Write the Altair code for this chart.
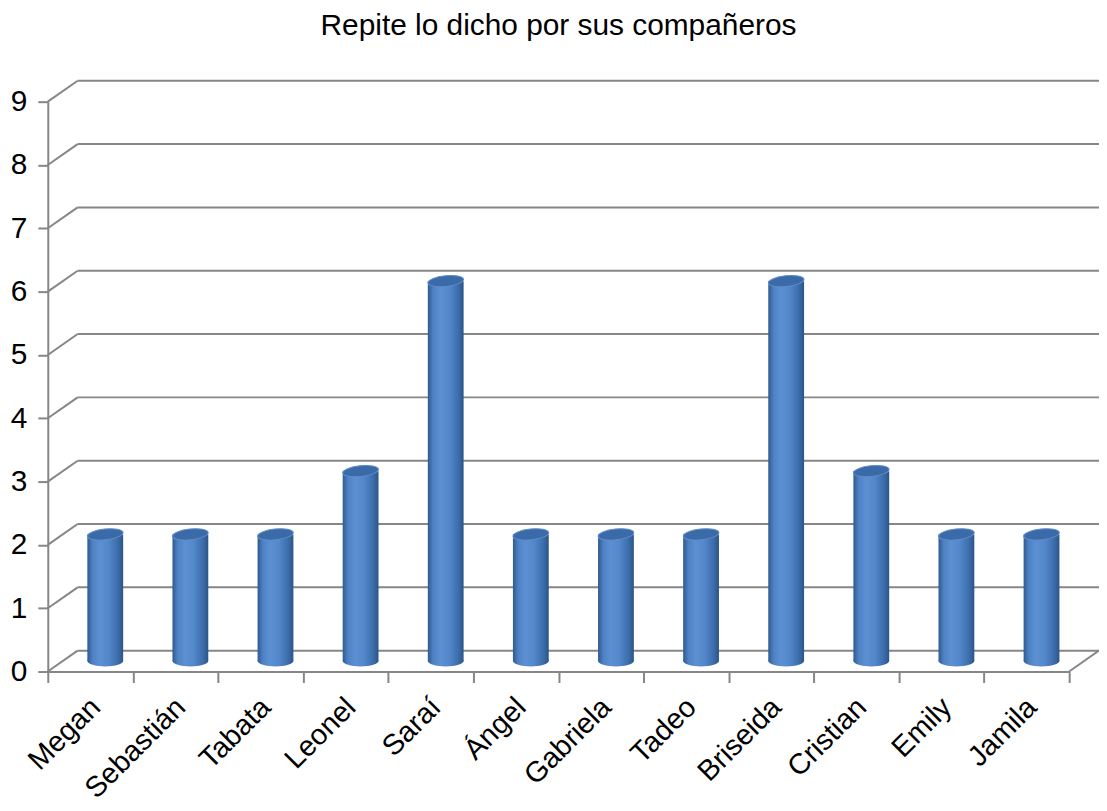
import altair as alt
import pandas as pd

# ---- data ----
nombres = ["Megan", "Sebastián", "Tabata", "Leonel", "Saraí", "Ángel",
           "Gabriela", "Tadeo", "Briseida", "Cristian", "Emily", "Jamila"]
valores = [2, 2, 2, 3, 6, 2, 2, 2, 6, 3, 2, 2]
y_ticks = [0, 1, 2, 3, 4, 5, 6, 7, 8, 9]
titulo = "Repite lo dicho por sus compañeros"

df = pd.DataFrame({"nombre": nombres, "valor": valores})
grid = pd.DataFrame({"v": y_ticks})
floor = pd.DataFrame({"v": [0]})

# ---- style ----
W, H = 1027, 573
DX, DY = 30, 21
GRAY = "#868686"
FONT = "Liberation Sans"
ELL = "M -1 0 A 1 0.3 0 1 1 1 0 A 1 0.3 0 1 1 -1 0 Z"

body_grad = alt.Gradient(
    gradient="linear", x1=0, x2=1, y1=0, y2=0,
    stops=[
        alt.GradientStop(color="#2d5a90", offset=0),
        alt.GradientStop(color="#4f82c4", offset=0.15),
        alt.GradientStop(color="#5c90d3", offset=0.35),
        alt.GradientStop(color="#5387ca", offset=0.6),
        alt.GradientStop(color="#3c6dab", offset=0.85),
        alt.GradientStop(color="#2b5588", offset=1),
    ],
)

y_scale = alt.Scale(domain=[0, 9], nice=False, zero=True)
y_axis = alt.Axis(
    title=None, values=y_ticks, grid=False, tickSize=10, tickWidth=2,
    tickColor=GRAY, domainColor=GRAY, domainWidth=2, labelFontSize=30,
    labelFont=FONT, labelColor="black", labelPadding=11,
)
x_axis = alt.Axis(
    title=None, labelAngle=-45, labelFontSize=29, labelFont=FONT,
    labelColor="black", tickBand="extent", tickSize=11, tickWidth=2,
    tickColor=GRAY, domainColor=GRAY, domainWidth=2, labelPadding=10,
    labelOffset=-5, grid=False, labelOverlap=False,
)
x_enc = alt.X("nombre:N", sort=nombres,
              scale=alt.Scale(paddingInner=0, paddingOuter=0), axis=x_axis)

# back-wall gridlines
back = alt.Chart(grid).mark_rule(color=GRAY, strokeWidth=2, yOffset=-DY).encode(
    y=alt.Y("v:Q", scale=y_scale, axis=y_axis),
    x=alt.value(DX), x2=alt.value(W + DX + 4),
)
# side-wall diagonals
side = alt.Chart(grid).mark_rule(color=GRAY, strokeWidth=2, y2Offset=-DY).encode(
    y=alt.Y("v:Q", scale=y_scale, axis=y_axis), y2="v:Q",
    x=alt.value(0), x2=alt.value(DX),
)
# right floor diagonal
right = alt.Chart(floor).mark_rule(color=GRAY, strokeWidth=2, y2Offset=-DY).encode(
    y=alt.Y("v:Q", scale=y_scale, axis=y_axis), y2="v:Q",
    x=alt.value(W), x2=alt.value(W + DX),
)

bars = alt.Chart(df).mark_bar(width=36, xOffset=15, yOffset=-DY / 2,
                              color=body_grad).encode(
    x=x_enc, y=alt.Y("valor:Q", scale=y_scale, axis=y_axis),
)
bottoms = alt.Chart(df).transform_calculate(cero="0").mark_point(
    shape=ELL, size=1296, filled=True, opacity=1, color=body_grad,
    xOffset=15, yOffset=-DY / 2,
).encode(x=x_enc, y=alt.Y("cero:Q", scale=y_scale, axis=y_axis))
tops = alt.Chart(df).mark_point(
    shape=ELL, size=1296, filled=True, opacity=1, fill="#3a6aa8",
    stroke="#5f8dc9", strokeWidth=1, xOffset=15, yOffset=-DY / 2, angle=354,
).encode(x=x_enc, y=alt.Y("valor:Q", scale=y_scale, axis=y_axis))

chart = alt.layer(back, side, right, bars, bottoms, tops).properties(
    width=W, height=H,
    padding={"left": 40, "top": 92, "right": 30, "bottom": 130},
    autosize=alt.AutoSizeParams(type="none"),
    title=alt.Title(titulo, fontSize=30, font=FONT, fontWeight="normal",
                    color="black", anchor="middle", offset=15,
                    baseline="alphabetic"),
).configure_view(stroke=None)

chart.save("out.html", embed_options={"renderer": "svg", "actions": False})
